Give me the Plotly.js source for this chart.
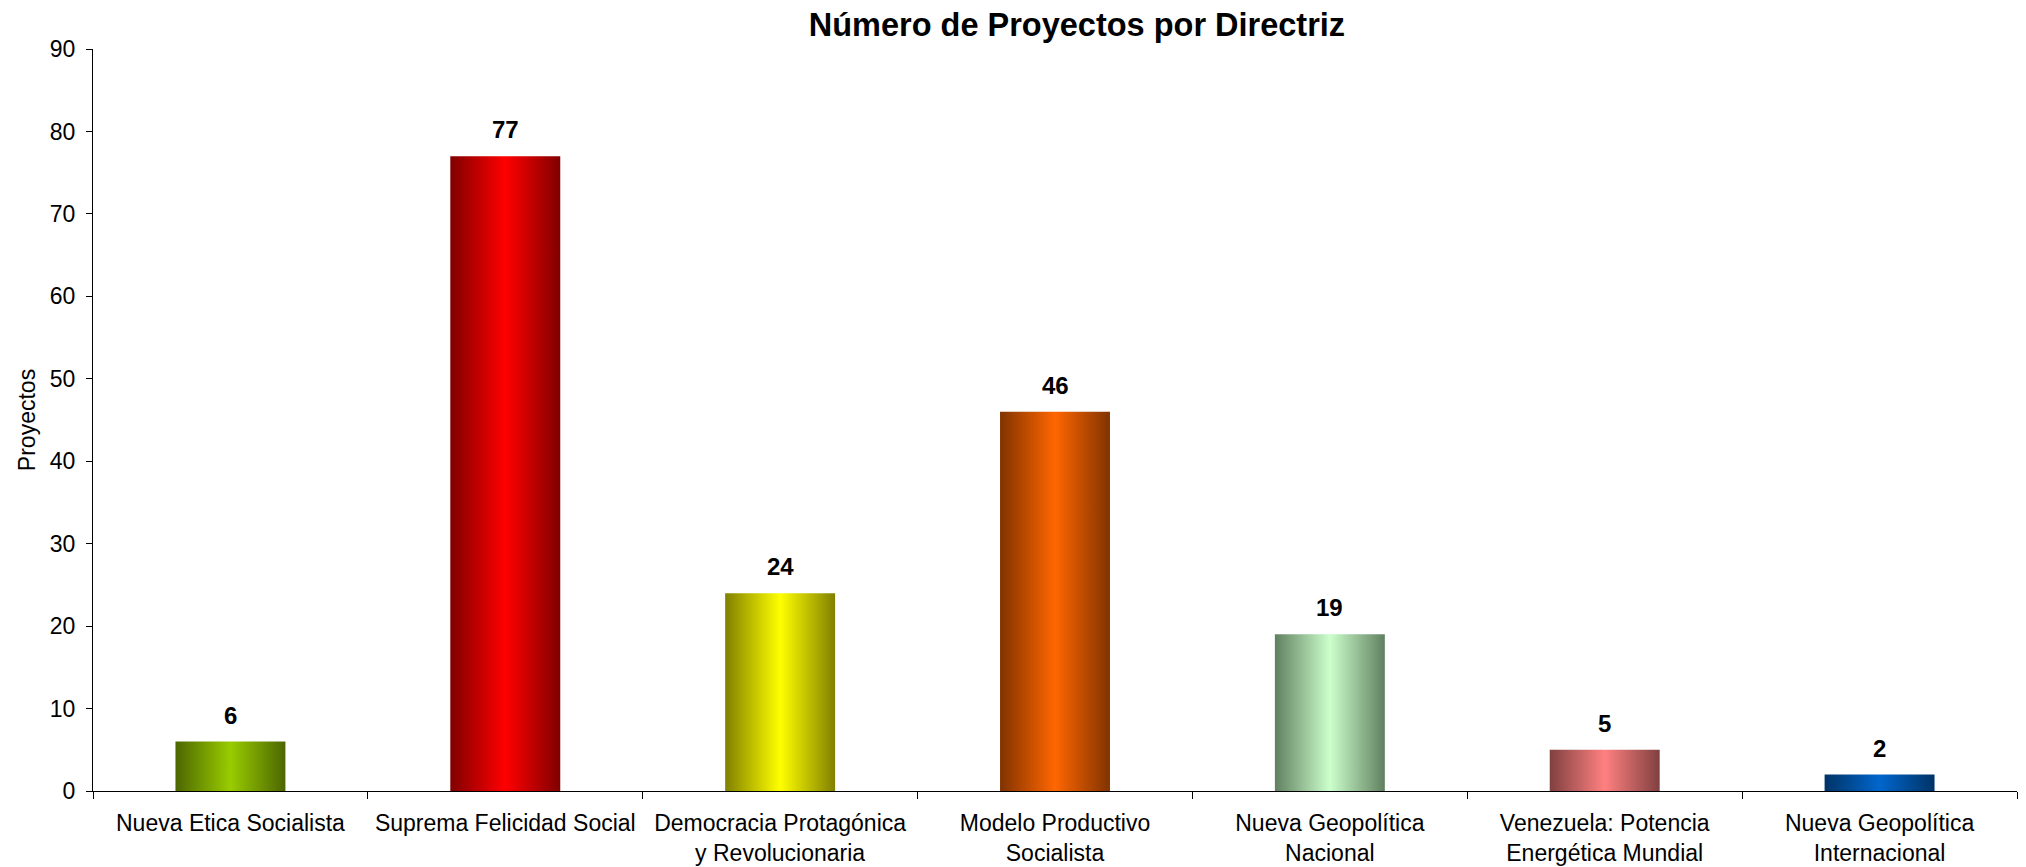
<!DOCTYPE html>
<html>
<head>
<meta charset="utf-8">
<script src="https://cdn.plot.ly/plotly-3.0.1.min.js"></script>
<style>
  html, body { margin: 0; padding: 0; background: #ffffff; }
  #chart { width: 2026px; height: 867px; }
</style>
</head>
<body>
<div id="chart"></div>
<script>
// ---- Data ----
const categories = [
  "Nueva Etica Socialista",
  "Suprema Felicidad Social",
  "Democracia Protagónica<br>y Revolucionaria",
  "Modelo Productivo<br>Socialista",
  "Nueva Geopolítica<br>Nacional",
  "Venezuela: Potencia<br>Energética Mundial",
  "Nueva Geopolítica<br>Internacional"
];
const values = [6, 77, 24, 46, 19, 5, 2];
const yTickValues = [0, 10, 20, 30, 40, 50, 60, 70, 80, 90];

// ---- Styles ----
const brightColors = ["#99CC00", "#FF0000", "#FFFF00", "#FF6600", "#CCFFCC", "#FF8080", "#0066CC"];
const darkColors   = ["#4C6600", "#800000", "#808000", "#803300", "#608060", "#804040", "#003366"];
const FONT = "Liberation Sans, Arial, Helvetica, sans-serif";

const trace = {
  type: "bar",
  x: categories,
  y: values,
  marker: { color: brightColors, line: { width: 0 } },
  hoverinfo: "x+y",
  showlegend: false
};

const annotations = categories.map((c, i) => ({
  x: c, y: values[i], xref: "x", yref: "y",
  text: String(values[i]),
  showarrow: false,
  yanchor: "bottom",
  yshift: 11,
  font: { family: FONT, size: 24, color: "#000000", weight: "bold" }
}));

const layout = {
  width: 2026,
  height: 867,
  paper_bgcolor: "#ffffff",
  plot_bgcolor: "#ffffff",
  margin: { l: 93, r: 9, t: 49, b: 76 },
  bargap: 0.6,
  font: { family: FONT, size: 23, color: "#000000" },
  title: {
    text: "<b>Número de Proyectos por Directriz</b>",
    font: { family: FONT, size: 32.5, color: "#000000" },
    x: 0.5114, xref: "paper", xanchor: "center",
    y: 0.972, yref: "container", yanchor: "middle"
  },
  xaxis: {
    type: "category",
    tickson: "boundaries",
    ticks: "outside",
    ticklen: 7,
    tickcolor: "#000000",
    tickwidth: 1,
    showline: true,
    linecolor: "#000000",
    linewidth: 1,
    showgrid: false,
    zeroline: false,
    tickfont: { family: FONT, size: 23, color: "#000000" },
    ticklabelstandoff: 11,
    automargin: false
  },
  yaxis: {
    range: [0, 90],
    tickvals: yTickValues,
    ticktext: yTickValues.map(String),
    ticks: "outside",
    ticklen: 6,
    tickcolor: "#000000",
    showline: true,
    linecolor: "#000000",
    linewidth: 1,
    showgrid: false,
    zeroline: false,
    tickfont: { family: FONT, size: 23, color: "#000000" },
    ticklabelstandoff: 6,
    title: { text: "Proyectos", font: { family: FONT, size: 23, color: "#000000" }, standoff: 7 },
    automargin: false
  },
  annotations: annotations
};

function applyGradients(gd) {
  const svg = gd.querySelector("svg.main-svg");
  if (!svg) return;
  const NS = "http://www.w3.org/2000/svg";
  let defs = svg.querySelector("defs");
  if (!defs) { defs = document.createElementNS(NS, "defs"); svg.insertBefore(defs, svg.firstChild); }
  brightColors.forEach((b, i) => {
    const id = "barGrad" + i;
    if (!document.getElementById(id)) {
      const g = document.createElementNS(NS, "linearGradient");
      g.setAttribute("id", id);
      g.setAttribute("x1", "0"); g.setAttribute("y1", "0");
      g.setAttribute("x2", "1"); g.setAttribute("y2", "0");
      [[0, darkColors[i]], [0.5, b], [1, darkColors[i]]].forEach(([o, c]) => {
        const s = document.createElementNS(NS, "stop");
        s.setAttribute("offset", o);
        s.setAttribute("stop-color", c);
        g.appendChild(s);
      });
      defs.appendChild(g);
    }
  });
  const paths = gd.querySelectorAll(".barlayer .trace.bars .point path");
  paths.forEach((p, i) => {
    p.style.fill = "url(#barGrad" + (i % brightColors.length) + ")";
  });
}

const gd = document.getElementById("chart");
Plotly.newPlot(gd, [trace], layout, { staticPlot: true, displayModeBar: false }).then(() => {
  applyGradients(gd);
  gd.on && gd.on("plotly_afterplot", () => applyGradients(gd));
});
</script>
</body>
</html>
